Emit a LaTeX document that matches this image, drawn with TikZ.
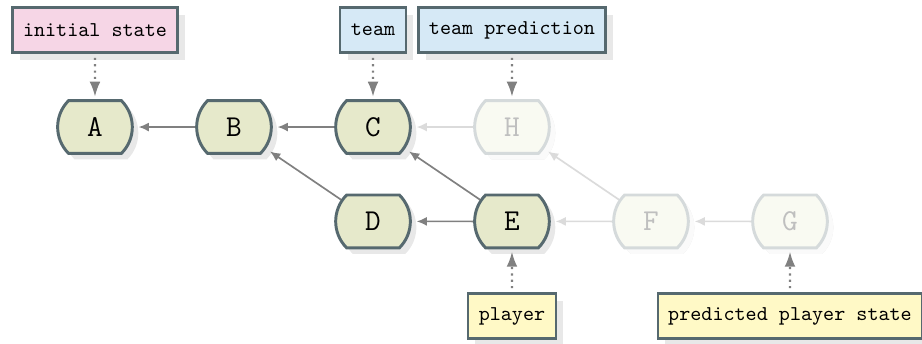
\documentclass[tikz,border=0pt]{standalone}
\usetikzlibrary{shapes.misc,shadows,arrows.meta}
\definecolor{commitfill}{HTML}{E6E9CB}
\definecolor{commitline}{HTML}{56696F}
\definecolor{fadefill}{HTML}{F9FAF2}
\definecolor{fadeline}{HTML}{D5DADB}
\definecolor{pinkfill}{HTML}{F6D6E6}
\definecolor{bluefill}{HTML}{D6E9F6}
\definecolor{yellowfill}{HTML}{FFF9C6}
\tikzset{
  commit/.style={rounded rectangle, rounded rectangle arc length=90,
    draw=commitline, fill=commitfill, line width=1.4pt,
    minimum width=1.2cm, minimum height=0.88cm, font=\Large\ttfamily,
    drop shadow={shadow xshift=0.1cm, shadow yshift=-0.1cm, fill=black!9, opacity=1}},
  ghost/.style={commit, draw=fadeline, fill=fadefill, text=black!25,
    drop shadow={shadow xshift=0.1cm, shadow yshift=-0.1cm, fill=black!2, opacity=1}},
  tagbox/.style={rectangle, draw=commitline, line width=1.1pt, font=\ttfamily,
    minimum height=0.75cm, inner xsep=5pt,
    drop shadow={shadow xshift=0.12cm, shadow yshift=-0.12cm, fill=black!9, opacity=1}},
  parent/.style={draw=black!50, line width=0.8pt, shorten >=0.8mm,
    -{Latex[length=1.7mm,width=1.5mm]}},
  ghostparent/.style={parent, draw=black!14},
  pointer/.style={draw=black!50, line width=1pt, dotted, shorten <=0.7mm, shorten >=0.4mm,
    -{Latex[length=2.5mm,width=1.8mm]}}
}
\begin{document}
\begin{tikzpicture}
  \useasboundingbox (0,0) rectangle (15.367,-5.717);
  % commits
  \node[commit] (A) at (1.583,-2.117) {A};
  \node[commit] (B) at (3.9,-2.117) {B};
  \node[commit] (C) at (6.217,-2.117) {C};
  \node[ghost] (H) at (8.533,-2.117) {H};
  \node[commit] (D) at (6.217,-3.69) {D};
  \node[commit] (E) at (8.533,-3.69) {E};
  \node[ghost] (F) at (10.85,-3.69) {F};
  \node[ghost] (G) at (13.167,-3.69) {G};
  % parents
  \draw[parent] (B) -- (A);
  \draw[parent] (C) -- (B);
  \draw[parent] (D) -- (B);
  \draw[parent] (E) -- (D);
  \draw[parent] (E) -- (C);
  \draw[ghostparent] (H) -- (C);
  \draw[ghostparent] (F) -- (E);
  \draw[ghostparent] (F) -- (H);
  \draw[ghostparent] (G) -- (F);
  % refs
  \node[tagbox, fill=pinkfill] (init) at (1.583,-0.5) {initial state};
  \node[tagbox, fill=bluefill] (team) at (6.217,-0.5) {team};
  \node[tagbox, fill=bluefill] (teampred) at (8.533,-0.5) {team prediction};
  \node[tagbox, fill=yellowfill] (player) at (8.533,-5.267) {player};
  \node[tagbox, fill=yellowfill] (playerpred) at (13.167,-5.267) {predicted player state};
  \draw[pointer] (init) -- (A);
  \draw[pointer] (team) -- (C);
  \draw[pointer] (teampred) -- (H);
  \draw[pointer] (player) -- (E);
  \draw[pointer] (playerpred) -- (G);
\end{tikzpicture}
\end{document}
